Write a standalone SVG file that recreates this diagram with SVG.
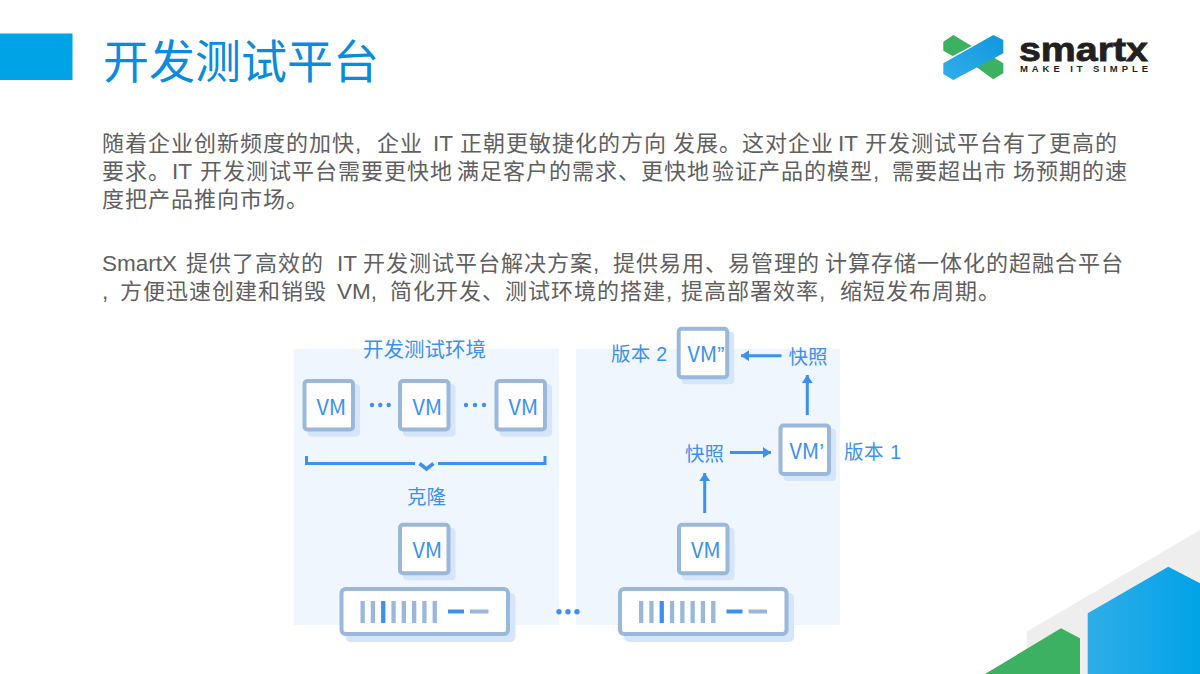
<svg xmlns="http://www.w3.org/2000/svg" width="1200" height="674" viewBox="0 0 1200 674">
<style>
text{font-family:"Liberation Sans","Noto Sans CJK SC",sans-serif}
.body{font-size:22px;letter-spacing:1px;fill:#606060}
.la{font-size:22.5px;letter-spacing:0}
.lab{font-size:19.5px;fill:#3d91ee}
.vm{font-family:"Noto Sans CJK SC",sans-serif;font-size:21.5px;fill:#3d91ee}
.pr{font-family:"Liberation Sans",sans-serif}
.sh{fill:#d5e5fb}
.bx{fill:#fff;stroke:#9ab8da;stroke-width:4}
.bar{fill:#9ab8da}
.hot{fill:#3d91ee}
.ln{fill:none;stroke:#3d91ee;stroke-width:3}
</style>
<defs>
<linearGradient id="bl" x1="0" x2="1" y1="0" y2="0"><stop offset="0" stop-color="#2fade9"/><stop offset="1" stop-color="#00a3e6"/></linearGradient>
<linearGradient id="lb" x1="0" x2="1" y1="1" y2="0"><stop offset="0" stop-color="#2fb0ea"/><stop offset="1" stop-color="#1295dc"/></linearGradient>
<marker id="ah" markerUnits="userSpaceOnUse" markerWidth="9" markerHeight="11" refX="8" refY="5.500" orient="auto"><path d="M0 0L8 5.500L0 11Z" fill="#3d91ee"/></marker>
<g id="vmbox"><rect x="5" y="5" width="52.500" height="52.500" rx="4" class="sh"/><rect x="2" y="2" width="48.500" height="48.500" rx="3" class="bx"/></g>
<g id="srv"><rect x="6" y="6" width="170" height="49" rx="5" class="sh"/><rect x="2" y="2" width="166.500" height="45" rx="4" class="bx"/>
<rect x="21" y="14" width="4.300" height="22" class="bar"/><rect x="31.300" y="14" width="4.300" height="22" class="bar"/><rect x="41.600" y="14" width="4.300" height="22" class="hot"/><rect x="51.900" y="14" width="4.300" height="22" class="bar"/><rect x="62.200" y="14" width="4.300" height="22" class="bar"/><rect x="72.500" y="14" width="4.300" height="22" class="bar"/><rect x="82.800" y="14" width="4.300" height="22" class="bar"/><rect x="93.100" y="14" width="4.300" height="22" class="bar"/>
<rect x="108.500" y="22.500" width="16" height="4" class="hot"/><rect x="130.500" y="22.500" width="18.500" height="4" class="bar"/></g>
</defs>

<g id="chrome">
<rect x="0" y="33.500" width="72.500" height="46.500" fill="#00a3e6"/>
<text x="103" y="78" font-size="46" fill="#0a8bdc" textLength="276" style="font-family:'Noto Sans CJK SC',sans-serif">开发测试平台</text>
<polygon points="1026.700,631.700 1200,530 1200,674 1026.700,674" fill="#eeeeee"/>
<polygon points="985,674 1061,628.300 1080,638.300 1080,674" fill="#3bb161"/>
<polygon points="1087.700,613.300 1168.300,566.700 1200,583.300 1200,674 1087.700,674" fill="url(#bl)"/>
</g>

<g id="logo">
<polygon points="943.300,41.700 953.300,35 971.700,46 952.700,56 943.300,50.700" fill="#3bb161"/>
<polygon points="976,66.700 993.300,57.300 1003.300,63.300 1003.300,73.300 993.300,79.300" fill="#3bb161"/>
<polygon points="943.300,63.300 993.300,35 1003.300,40 1003.300,53.300 953.300,80 943.300,74" fill="url(#lb)"/>
<text x="1019" y="60.700" font-size="34" font-weight="700" fill="#231f20" stroke="#231f20" stroke-width="0.800" textLength="129" lengthAdjust="spacingAndGlyphs">smartx</text>
<text x="1020" y="71.800" font-size="9.500" font-weight="700" fill="#231f20" textLength="128">MAKE IT SIMPLE</text>
</g>

<g id="copy">
<text class="body" y="151"><tspan x="102">随着企业创新频度的加快</tspan><tspan class="la">,</tspan><tspan x="377">企业</tspan><tspan class="la" x="433">IT</tspan><tspan x="460">正朝更敏捷化的方向</tspan><tspan x="673">发展。这对企业</tspan><tspan class="la" x="838">IT</tspan><tspan x="865">开发测试平台有了更高的</tspan></text>
<text class="body" y="179"><tspan x="102">要求。</tspan><tspan class="la" x="172">IT</tspan><tspan x="200">开发测试平台需要更快地</tspan><tspan x="457">满足客户的需求、更快地</tspan><tspan x="712">验证产品的模型</tspan><tspan class="la">,</tspan><tspan x="892">需要超出市</tspan><tspan x="1013">场预期的速</tspan></text>
<text class="body" y="207" x="102">度把产品推向市场。</text>
<text class="body" y="270.500"><tspan class="la" x="102">SmartX</tspan><tspan x="186">提供了高效的</tspan><tspan class="la" x="337">IT</tspan><tspan x="363">开发测试平台解决方案</tspan><tspan class="la">,</tspan><tspan x="613">提供易用、易管理的</tspan><tspan x="825">计算存储一体化的超融合平台</tspan></text>
<text class="body" y="298.500"><tspan class="la" x="102">,</tspan><tspan x="120">方便迅速创建和销毁</tspan><tspan class="la" x="337">VM,</tspan><tspan x="390">简化开发、测试环境的</tspan><tspan x="620">搭建</tspan><tspan class="la">,</tspan><tspan x="681">提高部署效率</tspan><tspan class="la">,</tspan><tspan x="840">缩短发布周期。</tspan></text>
</g>

<g id="panels">
<rect x="294" y="349" width="265" height="276" fill="#f0f6fe"/>
<rect x="576" y="349" width="264" height="276" fill="#f0f6fe"/>
</g>

<g id="connectors">
<path class="ln" d="M306.500 456V463.500H415M438 463.500H545V456"/>
<path d="M419.500 463.500L426.500 469L433.500 463.500" fill="none" stroke="#3d91ee" stroke-width="3.500"/>
<line class="ln" x1="704.700" y1="513" x2="704.700" y2="473" marker-end="url(#ah)"/>
<line class="ln" x1="730" y1="452.500" x2="771" y2="452.500" marker-end="url(#ah)"/>
<line class="ln" x1="807.300" y1="415" x2="807.300" y2="375" marker-end="url(#ah)"/>
<line class="ln" x1="781.500" y1="355.700" x2="741" y2="355.700" marker-end="url(#ah)"/>
</g>

<g id="dots" fill="#3d91ee">
<circle cx="372" cy="405" r="2.200"/><circle cx="380.300" cy="405" r="2.200"/><circle cx="388.700" cy="405" r="2.200"/>
<circle cx="466" cy="405" r="2.200"/><circle cx="475" cy="405" r="2.200"/><circle cx="484" cy="405" r="2.200"/>
<circle cx="559" cy="611.700" r="2.700"/><circle cx="568" cy="611.700" r="2.700"/><circle cx="577" cy="611.700" r="2.700"/>
</g>

<g id="n-vm1"><use href="#vmbox" x="302.500" y="379"/><text class="vm" x="316.500" y="414.500">VM</text></g>
<g id="n-vm2"><use href="#vmbox" x="398" y="379"/><text class="vm" x="412.500" y="414.500">VM</text></g>
<g id="n-vm3"><use href="#vmbox" x="494.500" y="379"/><text class="vm" x="508.500" y="414.500">VM</text></g>
<g id="n-vm4"><use href="#vmbox" x="398" y="522.700"/><text class="vm" x="412.500" y="558">VM</text></g>
<g id="n-vm5"><use href="#vmbox" x="677" y="522.700"/><text class="vm" x="691" y="558">VM</text></g>
<g id="n-vm6"><use href="#vmbox" x="778.500" y="423.500"/><text class="vm" x="789.500" y="459">VM<tspan class="pr">’</tspan></text></g>
<g id="n-vm7"><use href="#vmbox" x="676.700" y="326.700"/><text class="vm" x="687.500" y="362">VM<tspan class="pr">”</tspan></text></g>
<g id="n-srv1"><use href="#srv" x="339.500" y="587"/></g>
<g id="n-srv2"><use href="#srv" x="618" y="587"/></g>

<g id="labels">
<text class="lab" x="363" y="356.500" style="font-size:20.500px">开发测试环境</text>
<text class="lab" x="407" y="503.500">克隆</text>
<text class="lab" x="685" y="461">快照</text>
<text class="lab" x="788.500" y="364">快照</text>
<text class="lab" x="611" y="361" textLength="56">版本 2</text>
<text class="lab" x="844" y="459" textLength="57">版本 1</text>
</g>
</svg>
